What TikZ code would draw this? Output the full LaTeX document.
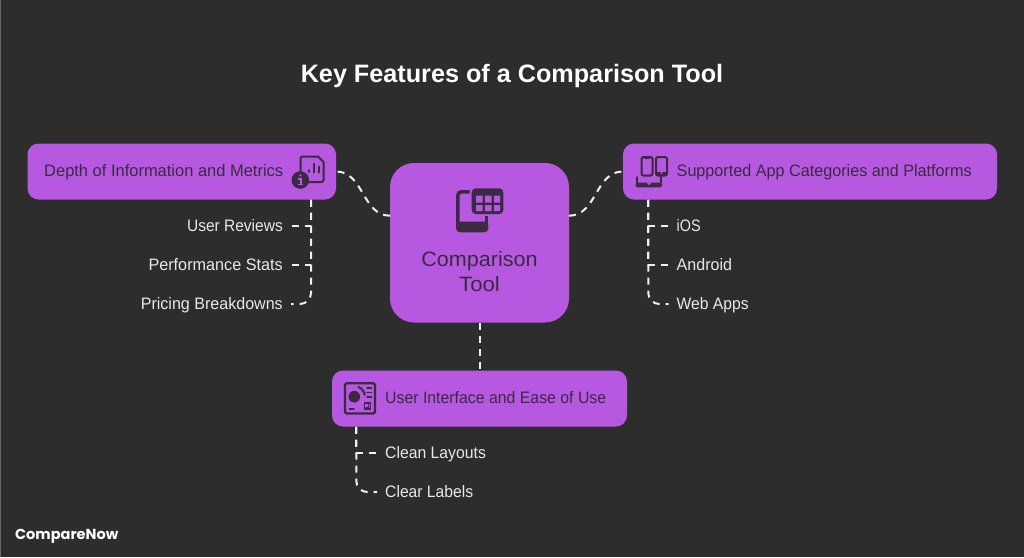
\documentclass[tikz,border=0pt]{standalone}
\usepackage{fontspec}
\usepackage{graphicx}
\setmainfont{Liberation Sans}
\definecolor{bgc}{HTML}{2D2D2D}
\definecolor{boxc}{HTML}{B658E0}
\definecolor{inkc}{HTML}{3A2A42}
\definecolor{leafc}{HTML}{E8E8E8}
\definecolor{dashc}{HTML}{F0F0F0}
\newcommand{\fitw}[2]{\resizebox{#1pt}{\height}{#2}}
\tikzset{
  panel/.style={fill=boxc,draw=none,rounded corners=#1,inner sep=0pt},
  boxtext/.style={text=inkc,inner sep=0pt,font=\fontsize{16.6}{19}\selectfont,text height=11pt,text depth=3pt},
  leaf/.style={text=leafc,inner ysep=0pt,inner xsep=8pt,font=\fontsize{16.6}{19}\selectfont,text height=11pt,text depth=3pt},
  link/.style={draw=dashc,line width=2pt,dash pattern=on 7pt off 6pt},
  ink/.style={draw=inkc,line width=2pt,line cap=round,line join=round},
}
\begin{document}
\begin{tikzpicture}[x=1pt,y=-1pt]
\useasboundingbox (0,0) rectangle (1024,557);
\fill[bgc] (0,0) rectangle (1024,557);
\fill[gray!70!bgc] (0,0) rectangle (1,557);

\node[text=white,font=\bfseries\fontsize{25.2}{30}\selectfont,inner sep=0pt] (title) at (512,76) {Key Features of a Comparison Tool};

% panels
\node[panel=11pt,minimum width=308.5pt,minimum height=56pt] (depth) at (181.75,171.5) {};
\node[panel=11pt,minimum width=374pt,minimum height=56pt] (apps) at (810,171.5) {};
\node[panel=11pt,minimum width=295pt,minimum height=56pt] (ui) at (479.5,398.5) {};
\node[panel=24pt,minimum width=179pt,minimum height=159.5pt] (tool) at (479.5,242.75) {};

\node[boxtext,anchor=west] (depthlabel) at (44,172.5) {\fitw{239}{Depth of Information and Metrics}};
\node[boxtext,anchor=west] (appslabel) at (676.5,172.5) {\fitw{295}{Supported App Categories and Platforms}};
\node[boxtext,anchor=west] (uilabel) at (385,399.5) {\fitw{221}{User Interface and Ease of Use}};
\node[text=inkc,inner sep=0pt,align=center,font=\fontsize{20.8}{25}\selectfont] (toollabel) at (479.5,272) {\fitw{116.4}{Comparison}\\\fitw{40.7}{Tool}};

% leaves
\node[leaf,anchor=east] (l1) at (291,227) {\fitw{95.7}{User Reviews}};
\node[leaf,anchor=east] (l2) at (291,266) {\fitw{134.3}{Performance Stats}};
\node[leaf,anchor=east] (l3) at (291,305) {\fitw{142}{Pricing Breakdowns}};
\node[leaf,anchor=west] (r1) at (668.5,227) {\fitw{24}{iOS}};
\node[leaf,anchor=west] (r2) at (668.5,266) {\fitw{55.3}{Android}};
\node[leaf,anchor=west] (r3) at (668.5,305) {\fitw{72}{Web Apps}};
\node[leaf,anchor=west] (b1) at (377,454) {\fitw{100.7}{Clean Layouts}};
\node[leaf,anchor=west] (b2) at (377,493) {\fitw{88}{Clear Labels}};

% connectors
\coordinate (toolw) at (390,215.7);
\coordinate (toole) at (569,215.7);
\coordinate (depthe) at (336,171.5);
\coordinate (appsw) at (623,171.5);
\coordinate (depthstem) at (311,199.5);
\coordinate (appsstem) at (648.3,199.5);
\coordinate (uistem) at (356.3,426.5);
\draw[link] (toolw) .. controls (362,215.7) and (364,171.5) .. (depthe);
\draw[link] (toole) .. controls (597,215.7) and (595,171.5) .. (appsw);
\draw[link] (tool.south) -- (ui.north);
\draw[link] (depthstem) |- ([yshift=1pt]l1.east);
\draw[link] (depthstem) |- ([yshift=1pt]l2.east);
\draw[link,rounded corners=11pt] (depthstem) |- ([yshift=1pt]l3.east);
\draw[link] (appsstem) |- ([yshift=1pt]r1.west);
\draw[link] (appsstem) |- ([yshift=1pt]r2.west);
\draw[link,rounded corners=11pt] (appsstem) |- ([yshift=1pt]r3.west);
\draw[link] (uistem) |- ([yshift=1pt]b1.west);
\draw[link,rounded corners=11pt] (uistem) |- ([yshift=1pt]b2.west);

% logo
\node[text=white,anchor=west,inner sep=0pt,font=\fontspec{Poppins}\bfseries\fontsize{14.5}{17}\selectfont] (logo) at (15,536.5) {CompareNow};

% icon: document with info badge
\draw[ink] (300.5,174) -- (300.5,158.5) arc[start angle=180,end angle=90,radius=2pt] -- (318,156.5) -- (323.5,162) -- (323.5,180) arc[start angle=0,end angle=-90,radius=2pt] -- (308,182);
\draw[ink] (314,163.5) -- (314,172.5) (319.3,166.5) -- (319.3,172.5) (308.5,170) -- (308.5,172);
\fill[inkc] (300.3,180) circle[radius=8.8pt];
\draw[draw=boxc,line width=1.8pt] (298.3,178.7) -- (300.6,178.7) -- (300.6,184.5) (298,184.5) -- (303.2,184.5);
\fill[boxc] (300.3,175.5) circle[radius=1.3pt];

% icon: devices
\draw[ink,rounded corners=2pt] (641.5,157) rectangle (652.5,175.5);
\draw[ink] (645,157.8) -- (649,157.8);
\draw[ink,rounded corners=2pt] (656,157) rectangle (667,175.5);
\fill[inkc] (656,171.5) rectangle (667,175.5);
\fill[boxc] (661.5,173.2) circle[radius=1.2pt];
\fill[inkc,rounded corners=1.5pt] (635.5,182.7) rectangle (662,187.3);
\draw[ink,line width=1.6pt] (636.7,177) -- (636.7,183) (661,177) -- (661,183);
\fill[boxc] (646,182.5) -- (652,182.5) -- (649,185) -- cycle;

% icon: interface
\draw[ink,line width=2.2pt,rounded corners=1.5pt] (345,383.2) rectangle (375,413.5);
\fill[inkc] (354.3,396.7) circle[radius=5.8pt];
\draw[ink,line width=2pt] (358.3,386.9) arc[start angle=68,end angle=10,radius=10.5pt];
\draw[ink,line width=1.6pt] (367,388) -- (371.5,388) (367,392.3) -- (371.5,392.3) (367,396.7) -- (371.5,396.7);
\draw[ink,line width=1.7pt] (349.5,409) -- (354,409);
\draw[ink,line width=1.6pt] (364.5,403.2) rectangle (370.5,409);
\draw[ink,line width=1.2pt] (368.5,404.8) -- (368.5,407.5) -- (366,407.5);

% icon: phone with table
\draw[ink,line width=3.6pt,line cap=butt] (469.5,191.8) -- (461.5,191.8) arc[start angle=90,end angle=180,radius=3.7pt] -- (457.8,225);
\fill[inkc,rounded corners=4pt] (456,221.5) -- (488.3,221.5) -- (488.3,232.3) -- (456,232.3) -- cycle;
\fill[inkc] (485,216) rectangle (488.3,225);
\fill[inkc] (456,221.5) rectangle (488.3,226);
\fill[inkc,rounded corners=4pt] (471.7,188.3) rectangle (503.3,214);
\fill[boxc] (476,195.7) rectangle (482.7,202.7) (485,195.7) rectangle (491.7,202.7) (494,195.7) rectangle (500,202.7)
  (476,205) rectangle (482.7,211) (485,205) rectangle (491.7,211) (494,205) rectangle (500,211);
\end{tikzpicture}
\end{document}
